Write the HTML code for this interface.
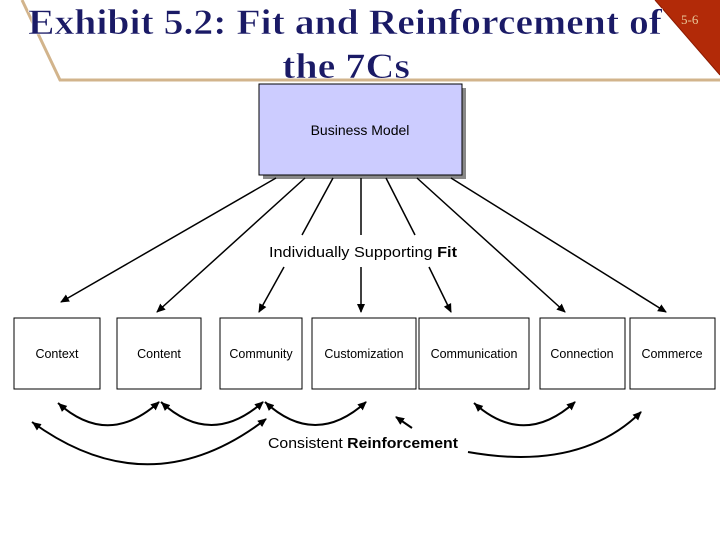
<!DOCTYPE html>
<html><head><meta charset="utf-8"><style>
html,body{margin:0;padding:0;background:#fff;}
svg{display:block;}
</style></head><body>
<svg width="720" height="540" viewBox="0 0 720 540" xmlns="http://www.w3.org/2000/svg">
<defs>
<marker id="a" markerWidth="10" markerHeight="10" refX="8" refY="5" orient="auto" markerUnits="userSpaceOnUse">
<path d="M0,1 L9,5 L0,9 Z" fill="#000"/></marker>
<marker id="s" markerWidth="10" markerHeight="10" refX="1" refY="5" orient="auto" markerUnits="userSpaceOnUse">
<path d="M10,1 L1,5 L10,9 Z" fill="#000"/></marker>
</defs>
<polyline points="22,0 60,80 720,80" fill="none" stroke="#d2b48c" stroke-width="3"/>
<polygon points="655,0 720,0 720,75" fill="#b22a08"/>
<line x1="655" y1="0" x2="720" y2="75" stroke="#8b1a00" stroke-width="1"/>
<text x="681" y="24" font-family="Liberation Serif,serif" font-size="13" fill="#e8c89a">5-6</text>
<text x="28" y="34" textLength="634" lengthAdjust="spacingAndGlyphs" font-family="Liberation Serif,serif" font-weight="bold" font-size="36" fill="#1a1a66" stroke="#fff" stroke-width="0.6">Exhibit 5.2: Fit and Reinforcement of</text>
<text x="282" y="78" textLength="128" lengthAdjust="spacingAndGlyphs" font-family="Liberation Serif,serif" font-weight="bold" font-size="36" fill="#1a1a66" stroke="#fff" stroke-width="0.6">the 7Cs</text>
<rect x="263" y="88" width="203" height="91" fill="#888"/>
<rect x="259" y="84" width="203" height="91" fill="#ccccff" stroke="#000" stroke-width="1"/>
<text x="360" y="135" text-anchor="middle" font-family="Liberation Sans,sans-serif" font-size="14">Business Model</text>
<g stroke="#000" stroke-width="1.5" fill="none">
<line x1="276" y1="178" x2="61" y2="302" marker-end="url(#a)"/>
<line x1="305" y1="178" x2="157" y2="312" marker-end="url(#a)"/>
<line x1="333" y1="178" x2="302" y2="235"/>
<line x1="284" y1="267" x2="259" y2="312" marker-end="url(#a)"/>
<line x1="361" y1="178" x2="361" y2="235"/>
<line x1="361" y1="267" x2="361" y2="312" marker-end="url(#a)"/>
<line x1="386" y1="178" x2="415" y2="235"/>
<line x1="429" y1="267" x2="451" y2="312" marker-end="url(#a)"/>
<line x1="417" y1="178" x2="565" y2="312" marker-end="url(#a)"/>
<line x1="451" y1="178" x2="666" y2="312" marker-end="url(#a)"/>
</g>
<text x="269" y="257" textLength="188" lengthAdjust="spacingAndGlyphs" font-family="Liberation Sans,sans-serif" font-size="14.5">Individually Supporting <tspan font-weight="bold">Fit</tspan></text>
<g fill="#fff" stroke="#000" stroke-width="1">
<rect x="14" y="318" width="86" height="71"/>
<rect x="117" y="318" width="84" height="71"/>
<rect x="220" y="318" width="82" height="71"/>
<rect x="312" y="318" width="104" height="71"/>
<rect x="419" y="318" width="110" height="71"/>
<rect x="540" y="318" width="85" height="71"/>
<rect x="630" y="318" width="85" height="71"/>
</g>
<g font-family="Liberation Sans,sans-serif" font-size="12.5" text-anchor="middle">
<text x="57" y="358">Context</text>
<text x="159" y="358">Content</text>
<text x="261" y="358">Community</text>
<text x="364" y="358">Customization</text>
<text x="474" y="358">Communication</text>
<text x="582" y="358">Connection</text>
<text x="672" y="358">Commerce</text>
</g>
<g stroke="#000" stroke-width="2" fill="none">
<path d="M58,403 Q108,448 159,402" marker-start="url(#s)" marker-end="url(#a)"/>
<path d="M161,402 Q211,448 263,402" marker-start="url(#s)" marker-end="url(#a)"/>
<path d="M265,402 Q315,448 366,402" marker-start="url(#s)" marker-end="url(#a)"/>
<path d="M474,403 Q524,448 575,402" marker-start="url(#s)" marker-end="url(#a)"/>
<path d="M32,422 Q150,508 266,419" marker-start="url(#s)" marker-end="url(#a)"/>
<path d="M412,428 L396,417" marker-end="url(#a)"/>
<path d="M468,452 Q580,472 641,412" marker-end="url(#a)"/>
</g>
<text x="268" y="448" textLength="190" lengthAdjust="spacingAndGlyphs" font-family="Liberation Sans,sans-serif" font-size="14.5">Consistent <tspan font-weight="bold">Reinforcement</tspan></text>
</svg>
</body></html>
